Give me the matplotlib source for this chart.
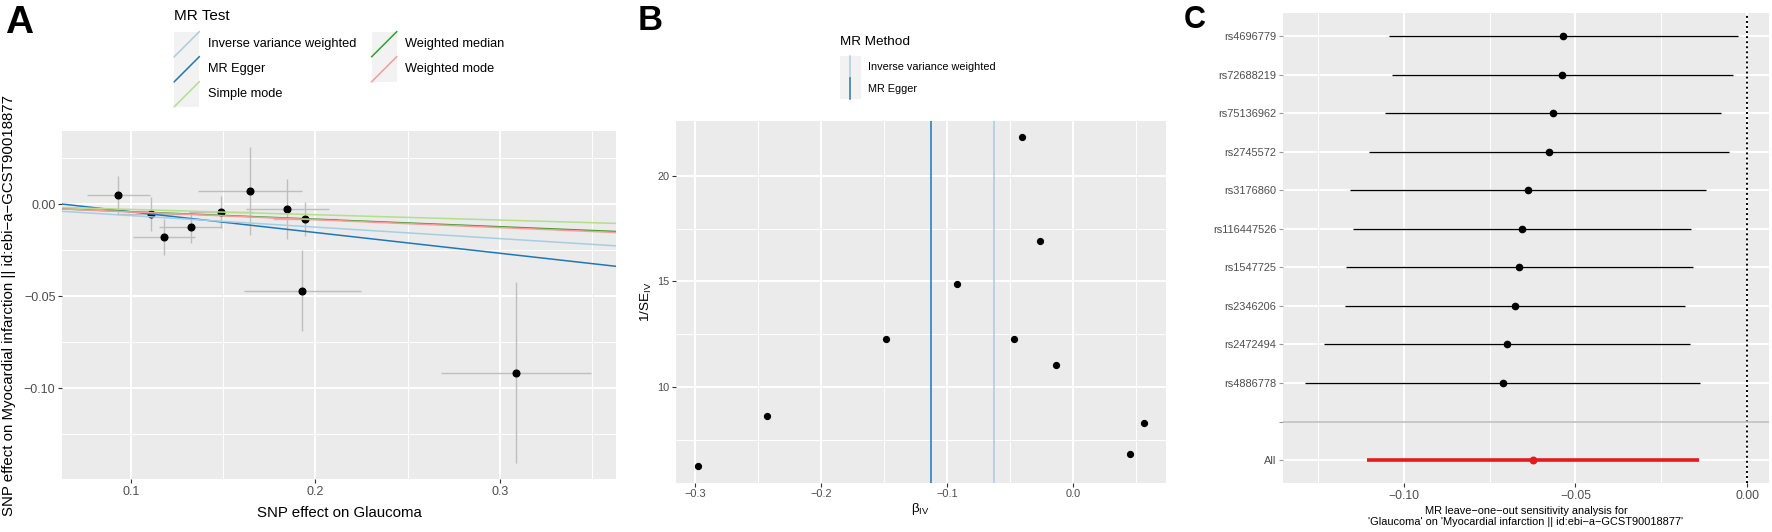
import matplotlib
matplotlib.use("Agg")
import matplotlib.pyplot as plt
import numpy as np
from matplotlib.patches import Rectangle
from matplotlib.ticker import FixedLocator, FuncFormatter

plt.rcParams['font.family'] = ['Liberation Sans', 'DejaVu Sans']
plt.rcParams['mathtext.fontset'] = 'custom'
plt.rcParams['mathtext.rm'] = 'Liberation Sans'
plt.rcParams['mathtext.default'] = 'regular'

# ---- panel A: SNP effects (exposure vs outcome) ----
snp_x = [0.0933, 0.1108, 0.1180, 0.1324, 0.1488, 0.1645, 0.1849, 0.1928, 0.1942, 0.3086]
snp_y = [0.0049, -0.0054, -0.0177, -0.0125, -0.0042, 0.0072, -0.0027, -0.0470, -0.0081, -0.0916]
snp_x_se = [0.0169, 0.0173, 0.0169, 0.0171, 0.0175, 0.0282, 0.0227, 0.0317, 0.0173, 0.0406]
snp_y_se = [0.0106, 0.0090, 0.0098, 0.0088, 0.0087, 0.0239, 0.0165, 0.0221, 0.0090, 0.0491]

# MR estimates, legend order
methods = ["Inverse variance weighted", "MR Egger", "Simple mode", "Weighted median", "Weighted mode"]
method_b = [-0.0625, -0.1127, -0.0289, -0.0410, -0.0425]
method_a = [0.0, 0.0071, 0.0, 0.0, 0.0]
method_col = ["#A6CEE3", "#1F78B4", "#B2DF8A", "#33A02C", "#FB9A99"]
draw_order = ["MR Egger", "Weighted median", "Inverse variance weighted", "Simple mode", "Weighted mode"]

# ---- panel B: funnel plot ----
beta_iv = [-0.2976, -0.2426, -0.1483, -0.0923, -0.0470, -0.0409, -0.0264, -0.0132, 0.0451, 0.0560]
inv_se_iv = [6.27, 8.64, 12.27, 14.87, 12.30, 21.83, 16.91, 11.06, 6.87, 8.33]
funnel_methods = ["Inverse variance weighted", "MR Egger"]
funnel_b = [-0.0625, -0.1127]
funnel_col = ["#A6CEE3", "#1F78B4"]

# ---- panel C: leave-one-out ----
loo_snp = ["rs4696779", "rs72688219", "rs75136962", "rs2745572", "rs3176860",
           "rs116447526", "rs1547725", "rs2346206", "rs2472494", "rs4886778"]
loo_b = [-0.0536, -0.0538, -0.0566, -0.0577, -0.0639, -0.0656, -0.0663, -0.0676, -0.0700, -0.0712]
loo_lo = [-0.1043, -0.1033, -0.1055, -0.1101, -0.1157, -0.1147, -0.1167, -0.1172, -0.1233, -0.1288]
loo_hi = [-0.0028, -0.0042, -0.0076, -0.0052, -0.0120, -0.0164, -0.0159, -0.0181, -0.0166, -0.0136]
all_b, all_lo, all_hi = -0.0624, -0.1107, -0.0140

W, H = 1772, 532
TXT = '#4D4D4D'


def gg_lim(vals, mult=0.05):
    lo, hi = np.min(vals), np.max(vals)
    pad = (hi - lo) * mult
    return lo - pad, hi + pad


def px_axes(fig, left, top, right, bottom):
    return fig.add_axes([left / W, 1 - bottom / H, (right - left) / W, (bottom - top) / H])


def fmt(nd):
    return FuncFormatter(lambda v, p: f"{v:.{nd}f}".replace("-", "\u2212"))


def gg_style(ax, tick_size):
    ax.set_facecolor('#EBEBEB')
    for s in ax.spines.values():
        s.set_visible(False)
    ax.grid(which='major', color='white', lw=1.4)
    ax.grid(which='minor', color='white', lw=0.7)
    ax.set_axisbelow(True)
    ax.tick_params(which='major', length=2.7, width=0.8, color='#333333',
                   labelsize=tick_size, labelcolor=TXT, pad=2)
    ax.tick_params(which='minor', length=0)


fig = plt.figure(figsize=(W / 100, H / 100), dpi=100)
ov = fig.add_axes([0, 0, 1, 1])
ov.set_xlim(0, W)
ov.set_ylim(H, 0)
ov.axis('off')

# ================= A =================
axA = px_axes(fig, 62, 131, 616, 479)
gg_style(axA, 9)
sx, sy = np.array(snp_x), np.array(snp_y)
sxe, sye = np.array(snp_x_se), np.array(snp_y_se)
axA.errorbar(sx, sy, yerr=sye, fmt='none', ecolor='#BEBEBE', elinewidth=1.0, capsize=0)
axA.errorbar(sx, sy, xerr=sxe, fmt='none', ecolor='#BEBEBE', elinewidth=1.0, capsize=0)
axA.plot(sx, sy, 'o', color='black', ms=4.8, zorder=3)
for m in draw_order:
    i = methods.index(m)
    axA.axline((0, method_a[i]), slope=method_b[i], color=method_col[i], lw=1.1, zorder=4)
axA.set_xlim(gg_lim(np.r_[sx - sxe, sx + sxe]))
axA.set_ylim(gg_lim(np.r_[sy - sye, sy + sye]))
axA.xaxis.set_major_locator(FixedLocator([0.1, 0.2, 0.3]))
axA.xaxis.set_minor_locator(FixedLocator([0.15, 0.25, 0.35]))
axA.yaxis.set_major_locator(FixedLocator([-0.10, -0.05, 0.0]))
axA.yaxis.set_minor_locator(FixedLocator([-0.125, -0.075, -0.025, 0.025]))
axA.xaxis.set_major_formatter(fmt(1))
axA.yaxis.set_major_formatter(fmt(2))
axA.set_xlabel("SNP effect on Glaucoma", fontsize=10.8)
axA.xaxis.set_label_coords(0.5, -0.098)
axA.xaxis.label.set_va('center')
axA.set_ylabel("SNP effect on Myocardial infarction || id:ebi\u2212a\u2212GCST90018877", fontsize=10.8)
axA.yaxis.set_label_coords(-0.0957, 0.5)
axA.yaxis.label.set_va('center')

# legend A
ov.text(174.3, 16, "MR Test", fontsize=11, va='center', ha='left')
for i, (lab, col) in enumerate(zip(methods, method_col)):
    c, r = divmod(i, 3)
    x0 = 174.3 + c * 197.4
    y0 = 31.7 + r * 25
    ov.add_patch(Rectangle((x0, y0), 25, 25, fc='#F2F2F2', ec='none'))
    ov.plot([x0, x0 + 25], [y0 + 25, y0], color=col, lw=1.1)
    ov.text(x0 + 33.4, y0 + 12.5, lab, fontsize=9.2, va='center', ha='left')

# ================= B =================
axB = px_axes(fig, 675.7, 120.5, 1166, 482.7)
gg_style(axB, 7.9)
axB.plot(beta_iv, inv_se_iv, 'o', color='black', ms=4.2, zorder=3)
for b, col in zip(funnel_b, funnel_col):
    axB.axvline(b, color=col, lw=1.1, zorder=4)
axB.set_xlim(gg_lim(np.r_[beta_iv, funnel_b]))
axB.set_ylim(gg_lim(inv_se_iv))
axB.xaxis.set_major_locator(FixedLocator([-0.3, -0.2, -0.1, 0.0]))
axB.xaxis.set_minor_locator(FixedLocator([-0.25, -0.15, -0.05, 0.05]))
axB.yaxis.set_major_locator(FixedLocator([10, 15, 20]))
axB.yaxis.set_minor_locator(FixedLocator([7.5, 12.5, 17.5]))
axB.xaxis.set_major_formatter(fmt(1))
axB.yaxis.set_major_formatter(fmt(0))
axB.set_xlabel("\u03b2$_{\\mathrm{IV}}$", fontsize=9.7)
axB.xaxis.set_label_coords(0.5, -0.073)
axB.xaxis.label.set_va('center')
axB.set_ylabel("1/SE$_{\\mathrm{IV}}$", fontsize=9.7)
axB.yaxis.set_label_coords(-0.0606, 0.5)
axB.yaxis.label.set_va('center')

# legend B
ov.text(840, 42.4, "MR Method", fontsize=9.7, va='center', ha='left')
for i, (lab, col) in enumerate(zip(funnel_methods, funnel_col)):
    y0 = 56 + i * 21.7
    ov.add_patch(Rectangle((840, y0), 20.7, 21.7, fc='#F2F2F2', ec='none'))
    ov.plot([850.35, 850.35], [y0, y0 + 21.7], color=col, lw=1.1)
    ov.text(867.7, y0 + 10.85, lab, fontsize=7.8, va='center', ha='left')

# ================= C =================
axC = px_axes(fig, 1282.7, 12.9, 1769.3, 483.3)
gg_style(axC, 8.8)
y_labels = ["All", ""] + loo_snp[::-1]
y_pos = np.arange(1, len(y_labels) + 1)
y_snp = [y_labels.index(s) + 1 for s in loo_snp]
axC.axvline(0, color='black', ls=(0, (1, 1.6)), lw=1.4)
axC.hlines(y_snp, loo_lo, loo_hi, color='black', lw=0.95)
axC.plot(loo_b, y_snp, 'o', color='black', ms=4.5, zorder=3)
axC.hlines(1, all_lo, all_hi, color='#E41A1C', lw=2.6)
axC.plot([all_b], [1], 'o', color='#E41A1C', ms=4.7, zorder=3)
axC.axhline(y_labels.index("") + 1, color='#BEBEBE', lw=1.2)
axC.set_xlim(gg_lim(np.r_[loo_lo, loo_hi, all_lo, all_hi, 0.0]))
axC.set_ylim(0.4, len(y_labels) + 0.6)
axC.set_yticks(y_pos, y_labels)
axC.tick_params(axis='y', labelsize=7.9, color='#999999')
axC.xaxis.set_major_locator(FixedLocator([-0.10, -0.05, 0.0]))
axC.xaxis.set_minor_locator(FixedLocator([-0.125, -0.075, -0.025]))
axC.xaxis.set_major_formatter(fmt(2))
axC.set_xlabel("MR leave\u2212one\u2212out sensitivity analysis for\n"
               "'Glaucoma' on 'Myocardial infarction || id:ebi\u2212a\u2212GCST90018877'",
               fontsize=7.9, linespacing=1.05)
axC.xaxis.set_label_coords(0.5, -0.071)
axC.xaxis.label.set_va('center')

# panel letters
fig.text(5 / W, 1 - 33.3 / H, "A", fontsize=28, fontweight='bold', va='baseline')
fig.text(638 / W, 1 - 30.5 / H, "B", fontsize=25, fontweight='bold', va='baseline')
fig.text(1183.5 / W, 1 - 28.3 / H, "C", fontsize=22, fontweight='bold', va='baseline')

fig.savefig("out.png", dpi=100)
